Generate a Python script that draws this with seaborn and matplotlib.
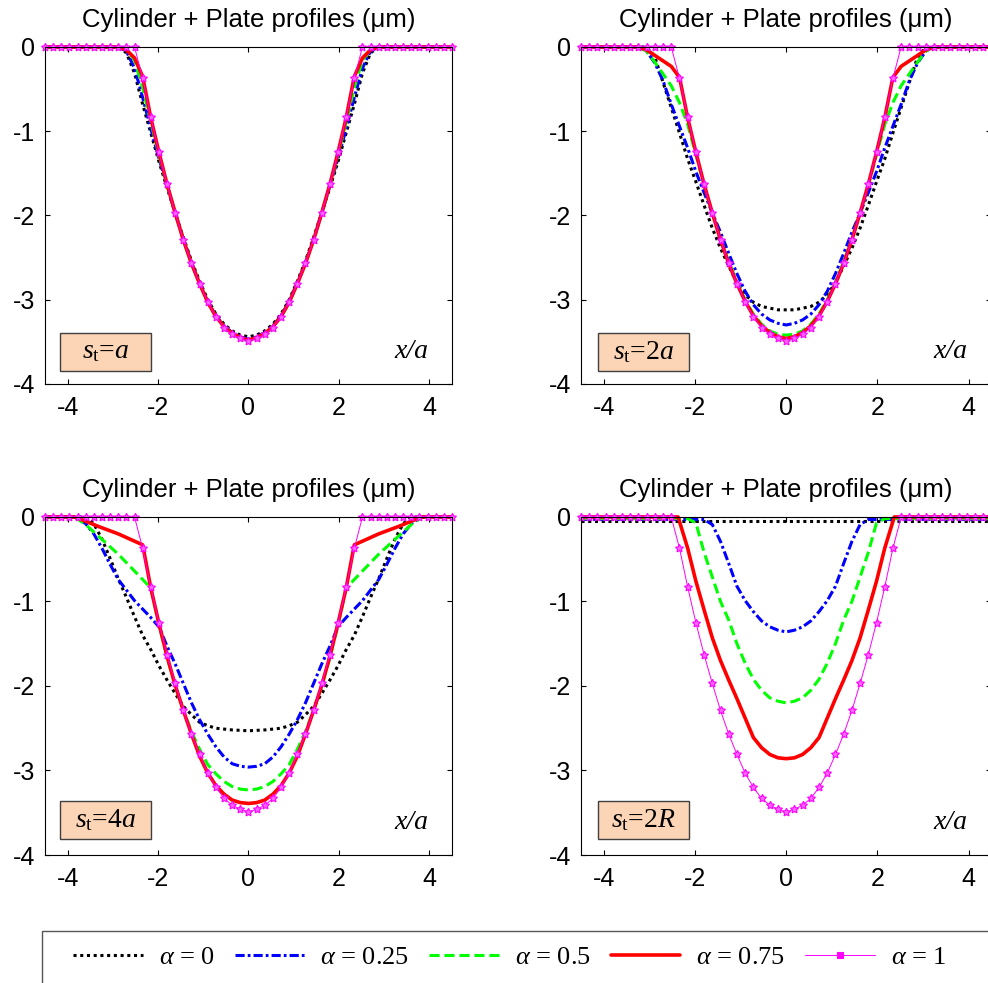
"""Cylinder + plate surface profiles for four tool spacings and five alpha values."""

import matplotlib
matplotlib.use("Agg")
import matplotlib.pyplot as plt
from matplotlib.lines import Line2D
from matplotlib.patches import Rectangle
import numpy as np
import pandas as pd
import seaborn as sns

# half profiles (x/a >= 0), every curve is symmetric about x = 0
X_GRID = [0.0, 0.18, 0.36, 0.54, 0.72, 0.9, 1.08, 1.26, 1.44, 1.62, 1.8, 1.98, 2.16,
          2.34, 2.52, 2.7, 2.88, 3.06, 3.24, 3.42, 3.6, 3.78, 3.96, 4.14, 4.32, 4.5]
Y_ALPHA1 = [-3.49, -3.46, -3.41, -3.33, -3.20, -3.03, -2.81, -2.57, -2.29, -1.97, -1.63, -1.25, -0.83,
            -0.37, 0, 0, 0, 0, 0, 0, 0, 0, 0, 0, 0, 0]

# s_t = a
P1_X = [0, 0.18, 0.36, 0.54, 0.72, 0.9, 1.08, 1.26, 1.44, 1.62, 1.8, 1.98, 2.16, 2.34, 2.52, 2.7, 2.88, 4.5]
P1_Y0 = [-3.44, -3.42, -3.37, -3.29, -3.17, -3.0, -2.78, -2.54, -2.26, -1.97, -1.67, -1.36, -1.02, -0.68, -0.31, -0.07, 0, 0]
P1_Y25 = [-3.47, -3.44, -3.39, -3.31, -3.19, -3.02, -2.80, -2.56, -2.28, -1.97, -1.65, -1.32, -0.97, -0.60, -0.25, -0.05, 0, 0]
P1_Y50 = [-3.48, -3.45, -3.40, -3.32, -3.20, -3.03, -2.81, -2.57, -2.29, -1.97, -1.64, -1.28, -0.89, -0.48, -0.16, -0.02, 0, 0]
P1_Y75 = [-3.48, -3.45, -3.40, -3.32, -3.20, -3.03, -2.81, -2.57, -2.29, -1.97, -1.63, -1.25, -0.84, -0.35, -0.13, -0.035, 0, 0]

# s_t = 2a
P2_X = [0, 0.18, 0.36, 0.54, 0.72, 0.9, 1.08, 1.26, 1.44, 1.62, 1.8, 1.98, 2.16, 2.34, 2.52, 2.7, 2.88, 3.06, 3.24, 4.5]
P2_Y0 = [-3.12, -3.12, -3.10, -3.08, -3.03, -2.94, -2.80, -2.60, -2.39, -2.15, -1.88, -1.60, -1.33, -1.02, -0.72, -0.42, -0.12, 0, 0, 0]
P2_Y25 = [-3.30, -3.28, -3.24, -3.17, -3.06, -2.90, -2.69, -2.45, -2.20, -1.97, -1.73, -1.48, -1.20, -0.94, -0.68, -0.40, -0.19, -0.05, 0, 0]
P2_Y50 = [-3.42, -3.41, -3.37, -3.29, -3.17, -3.00, -2.79, -2.55, -2.28, -1.97, -1.64, -1.28, -0.92, -0.66, -0.46, -0.32, -0.18, -0.05, 0, 0]
P2_Y75 = [-3.46, -3.44, -3.39, -3.31, -3.19, -3.02, -2.81, -2.57, -2.29, -1.97, -1.63, -1.25, -0.84, -0.36, -0.23, -0.165, -0.10, -0.035, 0, 0]

# s_t = 4a
P3_X0 = [0, 0.36, 0.72, 0.9, 1.08, 1.26, 1.44, 1.62, 1.8, 1.98, 2.16, 2.34, 2.52, 2.7, 2.88, 3.06, 3.24, 3.42, 3.6, 4.5]
P3_Y0 = [-2.53, -2.52, -2.50, -2.47, -2.43, -2.34, -2.24, -2.09, -1.93, -1.76, -1.57, -1.40, -1.18, -0.95, -0.73, -0.49, -0.26, -0.08, 0, 0]
P3_X25 = [0, 0.18, 0.36, 0.54, 0.72, 0.9, 1.08, 1.26, 1.44, 1.62, 1.8, 1.98, 2.16, 2.52, 2.88, 3.06, 3.24, 3.42, 3.6, 3.78, 3.96, 4.5]
P3_Y25 = [-2.96, -2.95, -2.92, -2.84, -2.72, -2.57, -2.40, -2.20, -1.97, -1.74, -1.53, -1.30, -1.19, -0.99, -0.74, -0.56, -0.37, -0.20, -0.08, -0.01, 0, 0]
P3_X50 = [0, 0.18, 0.36, 0.54, 0.72, 0.9, 1.08, 1.26, 1.44, 1.62, 1.8, 1.98, 2.16, 2.88, 3.6, 3.85, 4.5]
P3_Y50 = [-3.23, -3.22, -3.19, -3.13, -3.04, -2.93, -2.75, -2.54, -2.29, -2.0, -1.66, -1.27, -0.84, -0.44, -0.09, 0, 0]
P3_X75 = [0, 0.18, 0.36, 0.54, 0.72, 0.9, 1.08, 1.26, 1.44, 1.62, 1.8, 1.98, 2.16, 2.34, 2.88, 3.33, 3.6, 3.85, 4.5]
P3_Y75 = [-3.39, -3.38, -3.35, -3.28, -3.18, -3.03, -2.83, -2.57, -2.29, -1.99, -1.65, -1.26, -0.84, -0.33, -0.20, -0.11, -0.05, 0, 0]

# s_t = 2R
P4_X0 = [0, 4.5]
P4_Y0 = [-0.05, -0.05]
P4_X25 = [0, 0.18, 0.36, 0.54, 0.72, 0.9, 1.08, 1.26, 1.44, 1.62, 1.8, 4.5]
P4_Y25 = [-1.36, -1.34, -1.30, -1.23, -1.12, -0.99, -0.82, -0.55, -0.29, -0.09, -0.03, -0.03]
P4_X50 = [0, 0.18, 0.36, 0.54, 0.72, 0.9, 1.08, 1.26, 1.44, 1.62, 1.8, 1.98, 2.16, 4.5]
P4_Y50 = [-2.20, -2.18, -2.14, -2.05, -1.92, -1.73, -1.50, -1.22, -1.00, -0.71, -0.42, -0.07, -0.02, -0.02]
P4_X75 = [0, 0.18, 0.36, 0.54, 0.72, 0.9, 1.08, 1.26, 1.44, 1.62, 1.8, 1.98, 2.16, 2.37, 4.5]
P4_Y75 = [-2.86, -2.85, -2.81, -2.73, -2.61, -2.38, -2.15, -1.93, -1.70, -1.43, -1.10, -0.76, -0.37, 0, 0]

PANEL_LABELS = [r"$s_\mathrm{t}$=$a$", r"$s_\mathrm{t}$=2$a$", r"$s_\mathrm{t}$=4$a$", r"$s_\mathrm{t}$=2$R$"]
ALPHA_NAMES = ["0", "0.25", "0.5", "0.75", "1"]

CURVES = [
    [(P1_X, P1_Y0), (P1_X, P1_Y25), (P1_X, P1_Y50), (P1_X, P1_Y75), (X_GRID, Y_ALPHA1)],
    [(P2_X, P2_Y0), (P2_X, P2_Y25), (P2_X, P2_Y50), (P2_X, P2_Y75), (X_GRID, Y_ALPHA1)],
    [(P3_X0, P3_Y0), (P3_X25, P3_Y25), (P3_X50, P3_Y50), (P3_X75, P3_Y75), (X_GRID, Y_ALPHA1)],
    [(P4_X0, P4_Y0), (P4_X25, P4_Y25), (P4_X50, P4_Y50), (P4_X75, P4_Y75), (X_GRID, Y_ALPHA1)],
]

STYLES = {
    "0": dict(color="black", linestyle=(0, (1, 1.2)), linewidth=2.2),
    "0.25": dict(color="#0000ff", linestyle=(0, (3.0, 1.0, 0.9, 1.0)), linewidth=2.2),
    "0.5": dict(color="#00ff00", linestyle=(0, (3.3, 1.6)), linewidth=2.2),
    "0.75": dict(color="#ff0000", linestyle="-", linewidth=2.6),
    "1": dict(color="#ff00ff", linestyle="-", linewidth=0.7, marker=(5, 1, 0), markersize=6,
              markerfacecolor="#ff66ff", markeredgecolor="#ff00ff", markeredgewidth=0.8),
}


def full_profile(xs, ys):
    xs, ys = np.asarray(xs, float), np.asarray(ys, float)
    return np.concatenate([-xs[:0:-1], xs]), np.concatenate([ys[:0:-1], ys])


rows = []
for p, curves in enumerate(CURVES):
    for name, (xs, ys) in zip(ALPHA_NAMES, curves):
        fx, fy = full_profile(xs, ys)
        rows.append(pd.DataFrame({"panel": p, "alpha": name, "x": fx, "y": fy}))
profiles = pd.concat(rows, ignore_index=True)

sns.set_theme(style="ticks", rc={
    "xtick.direction": "in", "ytick.direction": "in", "xtick.top": True, "ytick.right": True,
    "axes.linewidth": 0.8, "axes.edgecolor": "black", "xtick.color": "black", "ytick.color": "black",
    "text.color": "black", "axes.titlecolor": "black",
    "xtick.major.size": 3.5, "ytick.major.size": 3.5, "xtick.major.width": 0.8, "ytick.major.width": 0.8,
    "axes.unicode_minus": False, "mathtext.fontset": "custom", "mathtext.rm": "Liberation Serif",
    "mathtext.it": "Liberation Serif:italic",
})
plt.rcParams["font.family"] = ["Liberation Sans", "DejaVu Sans"]

fig = plt.figure(figsize=(9.88, 9.83), dpi=100)
positions = [
    [0.0455, 0.6094, 0.412, 0.3428], [0.588, 0.6094, 0.4155, 0.3428],
    [0.0455, 0.1302, 0.412, 0.3439], [0.588, 0.1302, 0.4155, 0.3439],
]
box_x0 = [0.037, 0.041, 0.037, 0.041]
box_y0 = [0.039, 0.039, 0.047, 0.047]

for p, pos in enumerate(positions):
    ax = fig.add_axes(pos)
    for name in ALPHA_NAMES:
        sub = profiles[(profiles["panel"] == p) & (profiles["alpha"] == name)]
        sns.lineplot(data=sub, x="x", y="y", ax=ax, estimator=None, sort=False, clip_on=False, **STYLES[name])
    ax.set(xlim=(-4.5, 4.5), ylim=(-4, 0), xlabel="", ylabel="")
    ax.set_xticks([-4, -2, 0, 2, 4])
    ax.set_yticks([0, -1, -2, -3, -4])
    ax.tick_params(axis="x", labelsize=18, pad=8.5)
    ax.tick_params(axis="y", labelsize=18, pad=7)
    for side in ["top", "right"]:
        ax.spines[side].set_visible(True)
    ax.set_title("Cylinder + Plate profiles (\u03bcm)", fontsize=18.5, pad=14.5)
    ax.add_patch(Rectangle((box_x0[p], box_y0[p]), 0.223, 0.113, transform=ax.transAxes,
                           facecolor="#fbd5b5", edgecolor="#404040", linewidth=1.0, zorder=5))
    ax.text(box_x0[p] + 0.1115, box_y0[p] + 0.056, PANEL_LABELS[p], transform=ax.transAxes,
            ha="center", va="center", fontsize=20, family="Liberation Serif", zorder=6)
    ax.text(0.90, 0.095, "x/a", transform=ax.transAxes, ha="center", va="center",
            fontsize=20, family="Liberation Serif", style="italic")

handles = []
for name in ALPHA_NAMES:
    kw = dict(STYLES[name])
    if name == "1":
        kw.update(marker="s", markersize=4, markerfacecolor="#ff00ff")
    handles.append(Line2D([], [], **kw))
labels = [rf"$\alpha$ = {n}" for n in ALPHA_NAMES]
fig.legend(handles, labels, loc="center left", bbox_to_anchor=(73 / 988, 1 - 957 / 983), ncol=5,
           frameon=False, prop={"family": "Liberation Serif", "size": 19}, handlelength=2.65,
           handletextpad=0.6, columnspacing=0.75, borderpad=0, borderaxespad=0)
fig.patches.append(Rectangle((0.0422, -0.05), 1.0, 0.1032, transform=fig.transFigure,
                             fill=False, edgecolor="#555555", linewidth=1.0))

fig.savefig("out.png", dpi=100)
